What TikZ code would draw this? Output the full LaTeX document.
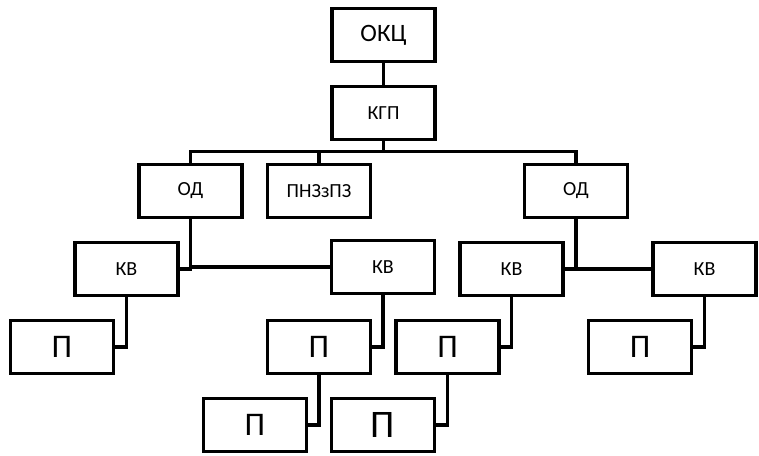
\documentclass[tikz,border=0pt]{standalone}
\usepackage{fontspec}
\setmainfont{Carlito}
\begin{document}
\begin{tikzpicture}[x=1pt,y=-1pt,
  box/.style={draw,line width=3.5pt,minimum width=103pt,minimum height=53pt,inner sep=0pt,outer sep=0pt,font=\fontsize{20}{22}\selectfont},
  big/.style={font=\fontsize{25}{27}\selectfont},
  pp/.style={font=\fontsize{33}{35}\selectfont},
  ppp/.style={font=\fontsize{39}{41}\selectfont},
  conn/.style={line width=3.2pt}]
\useasboundingbox (0,0) rectangle (759,455);
\node[box,big] (okc) at (383.5,35) {ОКЦ};
\node[box] (kgp) at (383.5,113) {КГП};
\node[box] (od1) at (190.5,191) {ОД};
\node[box] (pnz) at (319,191) {ПНЗзПЗ};
\node[box] (od2) at (576,191) {ОД};
\node[box] (kv1) at (126.5,269) {КВ};
\node[box] (kv2) at (383,267) {КВ};
\node[box] (kv3) at (511.5,269) {КВ};
\node[box] (kv4) at (704.5,269) {КВ};
\node[box,pp] (p1) at (62,347) {П};
\node[box,pp] (p2) at (319,347) {П};
\node[box,pp] (p3) at (447.5,347) {П};
\node[box,pp] (p6) at (640,347) {П};
\node[box,pp] (p4) at (255,425) {П};
\node[box,ppp] (p5) at (383,425) {П};
\draw[conn] (okc.south) -- (kgp.north);
\draw[conn] (kgp.south) -- ++(0,12) coordinate (bus);
\draw[conn] (od1.north) |- (bus) -| (od2.north);
\draw[conn] (pnz.north) -- (pnz.north |- bus);
\draw[conn] (kv1.east) -| (od1.south);
\draw[conn] (od1.south) |- (kv2.west);
\draw[conn] (kv3.east) -| (od2.south);
\draw[conn] (od2.south) |- (kv4.west);
\draw[conn] (kv1.south) |- (p1.east);
\draw[conn] (kv2.south) |- (p2.east);
\draw[conn] (kv3.south) |- (p3.east);
\draw[conn] (kv4.south) |- (p6.east);
\draw[conn] (p2.south) |- (p4.east);
\draw[conn] (p3.south) |- (p5.east);
\end{tikzpicture}
\end{document}
